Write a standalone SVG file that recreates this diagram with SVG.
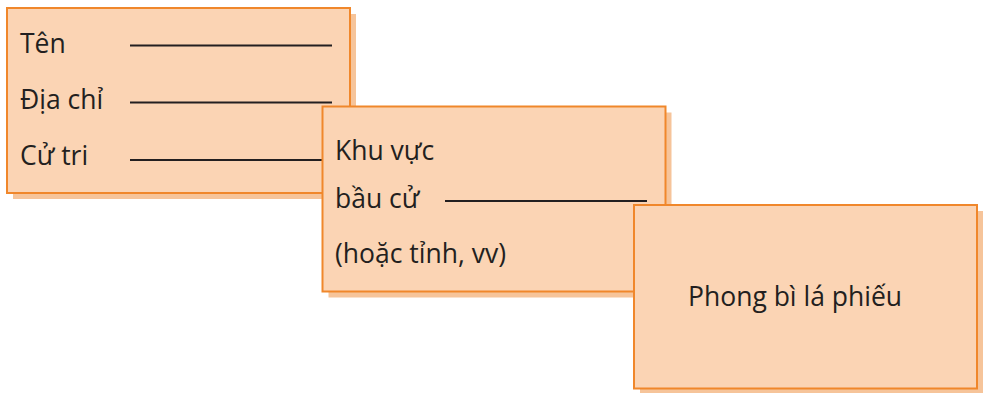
<svg xmlns="http://www.w3.org/2000/svg" width="983" height="393" viewBox="0 0 983 393">
  <style>
    .shadow { fill: #f6c49a; }
    .card { fill: #fbd4b4; stroke: #f0872b; stroke-width: 2; }
    .blank { stroke: #231f20; stroke-width: 2; fill: none; }
    .label { font-family: "Open Sans", "Noto Sans", sans-serif; font-size: 26.5px; fill: #231f20; }
  </style>
  <rect width="983" height="393" fill="#ffffff"/>

  <!-- voter card -->
  <g id="voter-card">
    <rect class="shadow" x="13" y="14" width="343" height="185"/>
    <rect class="card" x="7" y="8" width="343" height="185"/>
    <text class="label" x="20" y="53">Tên</text>
    <text class="label" x="20" y="109">Địa chỉ</text>
    <text class="label" x="20" y="165">Cử tri</text>
  </g>

  <!-- blank lines to fill in -->
  <g id="connectors">
    <line class="blank" x1="130" y1="45.5" x2="332" y2="45.5"/>
    <line class="blank" x1="130" y1="102.5" x2="332" y2="102.5"/>
    <line class="blank" x1="130" y1="160" x2="322" y2="160"/>
  </g>

  <!-- constituency card -->
  <g id="constituency-card">
    <rect class="shadow" x="328.5" y="112.5" width="343" height="185"/>
    <rect class="card" x="322.5" y="106.5" width="343" height="185"/>
    <text class="label" x="335" y="160">Khu vực</text>
    <text class="label" x="335" y="208">bầu cử</text>
    <text class="label" x="335" y="263">(hoặc tỉnh, vv)</text>
    <line class="blank" x1="445" y1="201" x2="647" y2="201"/>
  </g>

  <!-- ballot envelope -->
  <g id="ballot-envelope">
    <rect class="shadow" x="640" y="211" width="343" height="184"/>
    <rect class="card" x="634" y="205" width="343" height="183.5"/>
    <text class="label" x="688" y="306">Phong bì lá phiếu</text>
  </g>
</svg>
